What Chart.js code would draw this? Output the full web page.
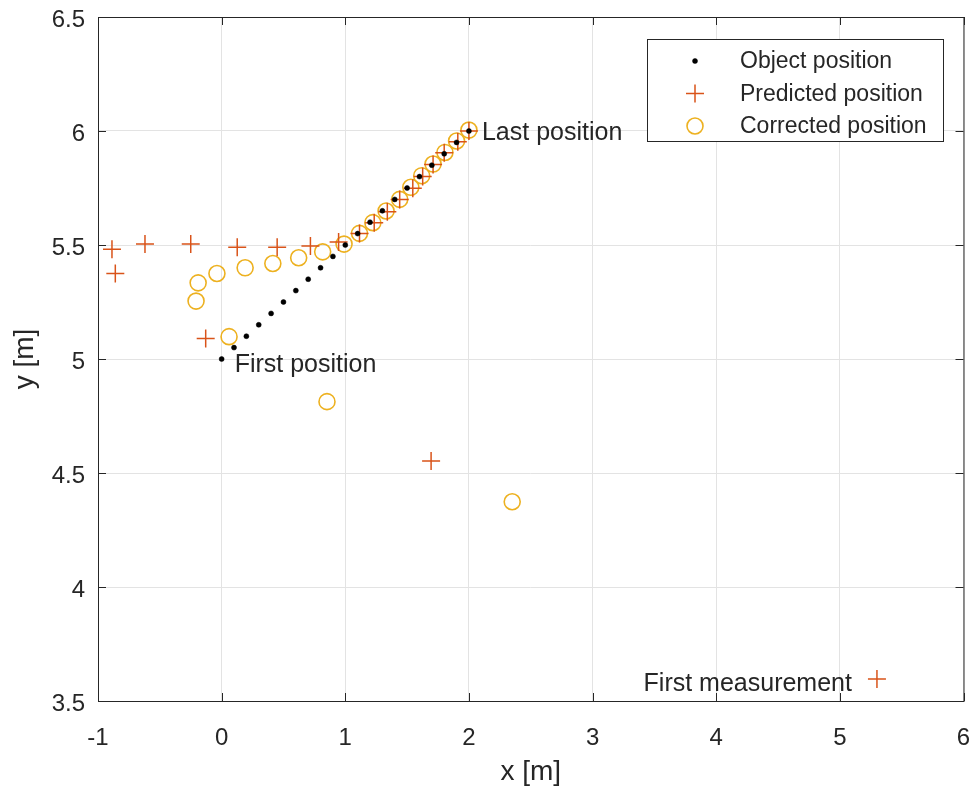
<!DOCTYPE html>
<html>
<head>
<meta charset="utf-8">
<script src="https://cdn.jsdelivr.net/npm/chart.js@4.4.1/dist/chart.umd.min.js"></script>
<style>
  html, body { margin: 0; padding: 0; background: #fff; }
  #wrap { width: 974px; height: 788px; }
</style>
</head>
<body>
<div id="wrap"><canvas id="chart" width="974" height="788"></canvas></div>
<script>
// data
const objectX = [0, 0.1, 0.2, 0.3, 0.4, 0.5, 0.6, 0.7, 0.8, 0.9, 1.0, 1.1, 1.2, 1.3, 1.4, 1.5, 1.6, 1.7, 1.8, 1.9, 2.0];
const objectY = [5, 5.05, 5.1, 5.15, 5.2, 5.25, 5.3, 5.35, 5.4, 5.45, 5.5, 5.55, 5.6, 5.65, 5.7, 5.75, 5.8, 5.85, 5.9, 5.95, 6.0];

const predictedX = [5.30, 1.694, -0.129, -0.86, -0.887, -0.62, -0.25, 0.126, 0.449, 0.718, 0.946, 1.115, 1.234, 1.34, 1.44, 1.546, 1.626, 1.71, 1.80, 1.91, 2.0];
const predictedY = [3.596, 4.553, 5.09, 5.375, 5.481, 5.504, 5.504, 5.49, 5.49, 5.496, 5.513, 5.55, 5.598, 5.646, 5.70, 5.749, 5.80, 5.853, 5.905, 5.953, 6.0];

const correctedX = [2.35, 0.852, 0.06, -0.207, -0.19, -0.038, 0.19, 0.414, 0.623, 0.817, 0.99, 1.115, 1.223, 1.33, 1.44, 1.53, 1.618, 1.71, 1.806, 1.90, 2.0];
const correctedY = [4.374, 4.813, 5.098, 5.254, 5.334, 5.375, 5.40, 5.419, 5.444, 5.47, 5.504, 5.551, 5.598, 5.649, 5.70, 5.753, 5.804, 5.855, 5.906, 5.956, 6.004];

const xTicks = [-1, 0, 1, 2, 3, 4, 5, 6];
const yTicks = [3.5, 4, 4.5, 5, 5.5, 6, 6.5];

const seriesNames = ['Object position', 'Predicted position', 'Corrected position'];

// text labels attached to points
const noteTexts = ['First position', 'Last position', 'First measurement'];
const noteX = [0, 2, 5.3];
const noteY = [5, 6, 3.6];

const FONT = '"Liberation Sans", Arial, Helvetica, sans-serif';
const AXIS = '#262626';

function toPoints(xs, ys) {
    return xs.map((x, i) => ({ x: x, y: ys[i] }));
}

// MATLAB-like box, inward ticks, point notes and legend
const matlabPlugin = {
    id: 'matlabStyle',
    afterDraw: function(chart) {
        const ctx = chart.ctx;
        const a = chart.chartArea;
        const xs = chart.scales.x, ys = chart.scales.y;

        ctx.save();
        ctx.strokeStyle = AXIS;
        ctx.lineWidth = 1;
        ctx.strokeRect(a.left + 0.5, a.top + 0.5, a.right - a.left, a.bottom - a.top);

        // inward ticks
        xTicks.forEach(v => {
            const px = Math.round(xs.getPixelForValue(v)) + 0.5;
            ctx.beginPath();
            ctx.moveTo(px, a.bottom); ctx.lineTo(px, a.bottom - 8);
            ctx.moveTo(px, a.top); ctx.lineTo(px, a.top + 8);
            ctx.stroke();
        });
        yTicks.forEach(v => {
            const py = Math.round(ys.getPixelForValue(v)) + 0.5;
            ctx.beginPath();
            ctx.moveTo(a.left, py); ctx.lineTo(a.left + 8, py);
            ctx.moveTo(a.right, py); ctx.lineTo(a.right - 8, py);
            ctx.stroke();
        });

        // point notes
        ctx.fillStyle = AXIS;
        ctx.font = '25px ' + FONT;
        ctx.textBaseline = 'middle';
        noteTexts.forEach((t, i) => {
            const px = xs.getPixelForValue(noteX[i]);
            const py = ys.getPixelForValue(noteY[i]);
            if (i === 2) {
                ctx.textAlign = 'right';
                ctx.fillText(t, px - 25, py + 6);
            } else {
                ctx.textAlign = 'left';
                ctx.fillText(t, px + 13, py + (i === 0 ? 6 : 2));
            }
        });

        // legend
        const lx = 647, ly = 39, lw = 296, lh = 102;
        ctx.fillStyle = '#fff';
        ctx.fillRect(lx, ly, lw, lh);
        ctx.strokeStyle = AXIS;
        ctx.lineWidth = 1;
        ctx.strokeRect(lx + 0.5, ly + 0.5, lw, lh);
        ctx.textAlign = 'left';
        ctx.font = '23px ' + FONT;
        chart.data.datasets.forEach((ds, i) => {
            const my = ly + 22 + i * 32.5;
            const mx = lx + 48;
            ctx.strokeStyle = ds.borderColor;
            ctx.fillStyle = ds.backgroundColor;
            ctx.lineWidth = ds.borderWidth;
            if (ds.pointStyle === 'cross') {
                const r = ds.pointRadius;
                ctx.beginPath();
                ctx.moveTo(mx - r, my); ctx.lineTo(mx + r, my);
                ctx.moveTo(mx, my - r); ctx.lineTo(mx, my + r);
                ctx.stroke();
            } else {
                ctx.beginPath();
                ctx.arc(mx, my, ds.pointRadius, 0, Math.PI * 2);
                if (ds.backgroundColor !== 'transparent') ctx.fill();
                ctx.stroke();
            }
            ctx.fillStyle = AXIS;
            ctx.fillText(ds.label, lx + 93, my + 1);
        });
        ctx.restore();
    }
};

new Chart(document.getElementById('chart'), {
    type: 'scatter',
    data: {
        datasets: [
            {
                label: seriesNames[0],
                data: toPoints(objectX, objectY),
                pointStyle: 'circle',
                pointRadius: 2.5,
                backgroundColor: '#000000',
                borderColor: '#000000',
                borderWidth: 0.5
            },
            {
                label: seriesNames[1],
                data: toPoints(predictedX, predictedY),
                pointStyle: 'cross',
                pointRadius: 9,
                backgroundColor: '#D95319',
                borderColor: '#D95319',
                borderWidth: 1.5
            },
            {
                label: seriesNames[2],
                data: toPoints(correctedX, correctedY),
                pointStyle: 'circle',
                pointRadius: 8,
                backgroundColor: 'transparent',
                borderColor: '#EDB120',
                borderWidth: 1.6
            }
        ]
    },
    options: {
        responsive: false,
        animation: false,
        devicePixelRatio: 1,
        layout: { padding: { top: 17, right: 10, left: 0, bottom: 0 } },
        plugins: {
            legend: { display: false },
            tooltip: { enabled: false }
        },
        scales: {
            x: {
                type: 'linear',
                min: -1, max: 6,
                afterBuildTicks: function(s) { s.ticks = xTicks.map(v => ({ value: v })); },
                afterFit: function(s) { s.height = 87; s.paddingLeft = 0; s.paddingRight = 0; },
                grid: { color: '#e3e3e3', lineWidth: 1, drawTicks: false },
                border: { display: false },
                ticks: {
                    color: AXIS, padding: 23,
                    font: { family: FONT, size: 24 },
                    callback: v => String(v)
                },
                title: {
                    display: true, text: 'x [m]', color: AXIS,
                    font: { family: FONT, size: 28, lineHeight: 1.1 }, padding: { top: 0, bottom: 0 }
                }
            },
            y: {
                type: 'linear',
                min: 3.5, max: 6.5,
                afterBuildTicks: function(s) { s.ticks = yTicks.map(v => ({ value: v })); },
                afterFit: function(s) { s.width = 98; s.paddingTop = 0; s.paddingBottom = 0; },
                grid: { color: '#e3e3e3', lineWidth: 1, drawTicks: false },
                border: { display: false },
                ticks: {
                    color: AXIS, padding: 13, labelOffset: 3,
                    font: { family: FONT, size: 24 },
                    callback: v => String(v)
                },
                title: {
                    display: true, text: 'y [m]', color: AXIS,
                    font: { family: FONT, size: 28, lineHeight: 1.1 }, padding: { top: 10, bottom: 0 }
                }
            }
        }
    },
    plugins: [matlabPlugin]
});
</script>
</body>
</html>
